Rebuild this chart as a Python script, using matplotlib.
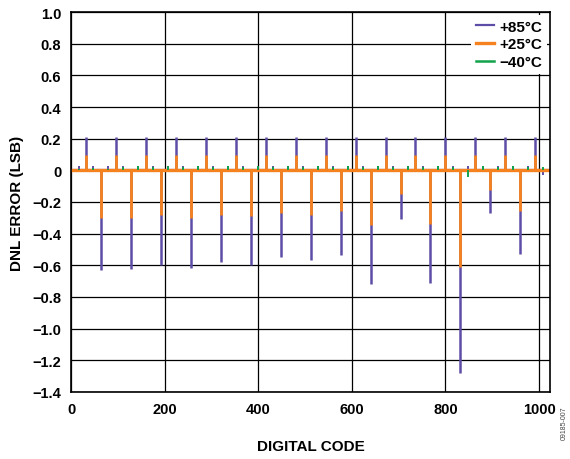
import numpy as np
import matplotlib
matplotlib.use("Agg")
import matplotlib.pyplot as plt

plt.rcParams['font.family'] = ['Liberation Sans', 'DejaVu Sans']
plt.rcParams['font.weight'] = 'bold'

# big code-transition spikes
pos_codes = [32, 96, 160, 224, 288, 352, 416, 480, 544, 608, 672, 736, 800, 864, 928, 992]
pos_85 = [0.21, 0.21, 0.21, 0.21, 0.21, 0.21, 0.21, 0.21, 0.21, 0.21, 0.21, 0.21, 0.21, 0.21, 0.21, 0.21]
pos_25 = [0.10, 0.10, 0.10, 0.10, 0.10, 0.10, 0.10, 0.10, 0.10, 0.10, 0.10, 0.10, 0.10, 0.10, 0.10, 0.10]

neg_codes = [64, 128, 192, 256, 320, 384, 448, 512, 576, 640, 704, 768, 832, 896, 960]
neg_85 = [-0.63, -0.625, -0.595, -0.62, -0.58, -0.60, -0.55, -0.565, -0.535,
          -0.72, -0.305, -0.71, -1.28, -0.27, -0.53]
neg_25 = [-0.30, -0.30, -0.285, -0.30, -0.28, -0.29, -0.27, -0.28, -0.26,
          -0.345, -0.15, -0.34, -0.61, -0.125, -0.255]

# small spikes between the big ones
small_codes = [16, 48, 80, 112, 144, 176, 208, 240, 272, 304, 336, 368, 400, 432, 464, 496,
               528, 560, 592, 624, 656, 688, 720, 752, 784, 816, 848, 880, 912, 944, 976, 1008]
small_85 = [0.03, 0.03, 0.025, 0.03, 0.02, 0.03, 0.025, 0.03, 0.025, 0.03, 0.03, 0.03, 0.03, 0.025, 0.03, 0.03,
            0.03, 0.025, 0.03, 0.03, 0.025, 0.03, 0.03, 0.03, 0.03, 0.025, 0.03, 0.03, 0.03, 0.025, 0.03, -0.03]
small_40 = [0.01, 0.015, 0.01, 0.02, 0.025, 0.02, 0.025, 0.02, 0.025, 0.02, 0.025, 0.02, 0.025, 0.02, 0.025, 0.02,
            0.025, 0.02, 0.025, 0.02, 0.025, 0.02, 0.025, 0.02, 0.025, 0.02, -0.04, 0.025, 0.02, 0.025, 0.02, 0.02]

purple = '#5E4DA6'
orange = '#F5821F'
green = '#12A24B'

fig = plt.figure(figsize=(5.7, 4.6), dpi=100)
ax = fig.add_axes([0.1246, 0.1457, 0.840, 0.826])

ax.grid(True, color='black', linewidth=0.9)
ax.set_axisbelow(True)

# +85C
ax.plot([0, 1023], [0, 0], color=purple, lw=1.6, label='+85°C')
ax.vlines(pos_codes, 0, pos_85, color=purple, lw=1.8)
ax.vlines(neg_codes, 0, neg_85, color=purple, lw=1.8)
ax.vlines(small_codes, 0, small_85, color=purple, lw=1.4)
# +25C
ax.plot([0, 1023], [0, 0], color=orange, lw=2.4, label='+25°C')
ax.vlines(pos_codes, 0, pos_25, color=orange, lw=2.0)
ax.vlines(neg_codes, 0, neg_25, color=orange, lw=2.0)
# -40C
ax.plot([], [], color=green, lw=1.8, label='\u221240°C')
ax.vlines(small_codes, 0, small_40, color=green, lw=1.4)

ax.set_xlim(0, 1023)
ax.set_ylim(-1.4, 1.0)
ax.set_xticks([0, 200, 400, 600, 800, 1000])
yt = [1.0, 0.8, 0.6, 0.4, 0.2, 0, -0.2, -0.4, -0.6, -0.8, -1.0, -1.2, -1.4]
ylabels = ['1.0', '0.8', '0.6', '0.4', '0.2', '0', '\u22120.2', '\u22120.4', '\u22120.6',
           '\u22120.8', '\u22121.0', '\u22121.2', '\u22121.4']
ax.set_yticks(yt)
ax.set_yticklabels(ylabels)
ax.tick_params(length=0, labelsize=10.5, pad=7)
for s in ax.spines.values():
    s.set_color('black')
    s.set_linewidth(1.2)

ax.set_xlabel('DIGITAL CODE', fontsize=11, fontweight='bold', labelpad=17)
ax.set_ylabel('DNL ERROR (LSB)', fontsize=11, fontweight='bold', labelpad=6)

leg = ax.legend(loc='upper right', frameon=True, fontsize=11, handlelength=1.2,
                handletextpad=0.35, labelspacing=0.25, borderaxespad=0.2,
                borderpad=0.3, fancybox=False)
leg.get_frame().set_edgecolor('none')
leg.get_frame().set_facecolor('white')
leg.get_frame().set_alpha(1)

fig.text(0.99, 0.08, '09185-007', rotation=90, fontsize=5, color='#444444',
         fontweight='normal', ha='center', va='center')

fig.savefig('out.png', dpi=100)
